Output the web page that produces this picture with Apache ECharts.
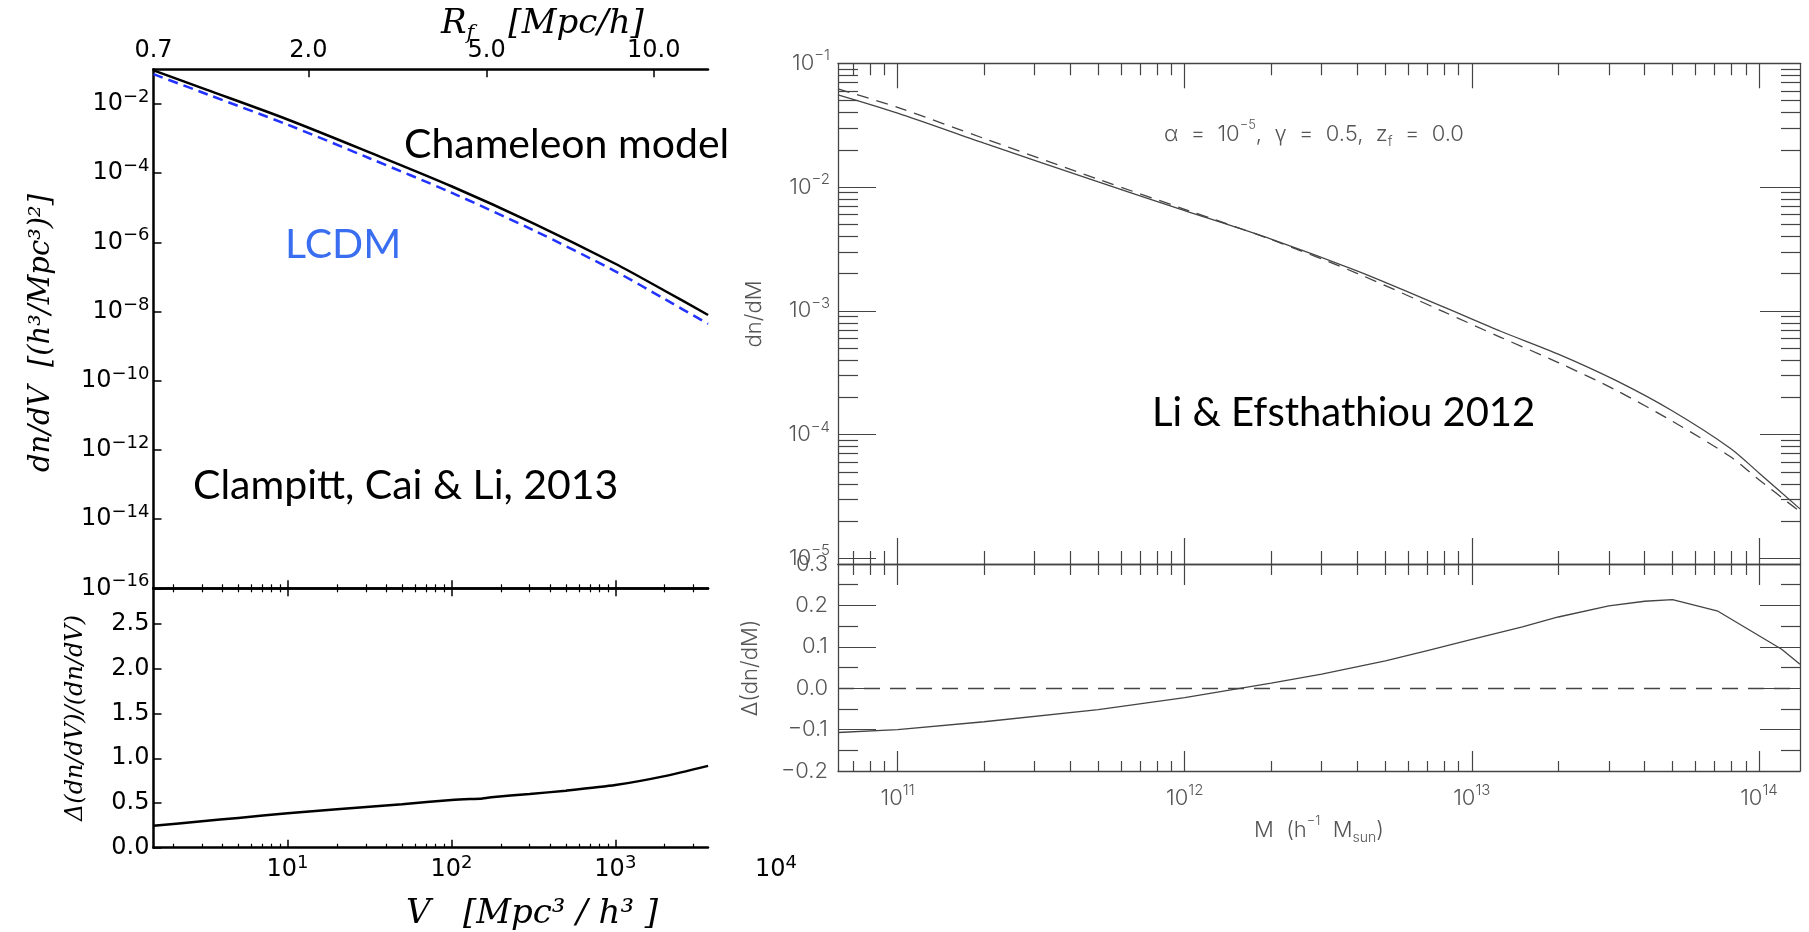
<!DOCTYPE html>
<html><head><meta charset="utf-8">
<script src="https://cdn.jsdelivr.net/npm/echarts@6.0.0/dist/echarts.min.js"></script>
<style>html,body{margin:0;padding:0;background:#fff}#c{width:1809px;height:932px}</style>
</head><body><div id="c"></div>
<script>
// ---------- Left figure (Clampitt, Cai & Li 2013) ----------
const volV = [1.52, 3.16, 10, 31.6, 100, 316, 1000, 2000, 3680];
const chameleonDnDV = [0.0933, 0.0263, 3.55e-3, 3.98e-4, 4.17e-5, 3.55e-6, 2.40e-7, 3.98e-8, 7.94e-9];
const lcdmDnDV = [0.0724, 0.0197, 2.51e-3, 2.69e-4, 2.72e-5, 2.24e-6, 1.45e-7, 2.29e-8, 4.37e-9];
const ratioV = [1.52, 3, 5, 10, 20, 50, 100, 130, 150, 175, 300, 500, 1000, 2000, 3680];
const ratioDelta = [0.245, 0.295, 0.333, 0.385, 0.43, 0.486, 0.534, 0.545, 0.547, 0.565, 0.60, 0.638, 0.70, 0.80, 0.915];
const vRange = [1.52, 3676];
const vMajorTicks = [10, 100, 1000];
const rfTickLabels = ['0.7', '2.0', '5.0', '10.0'];
const rfTickV = [1.52, 13.4, 164, 1714];
const leftYTicks = [1e-2, 1e-4, 1e-6, 1e-8, 1e-10, 1e-12, 1e-14, 1e-16];
const ratioTicks = [0, 0.5, 1.0, 1.5, 2.0, 2.5];

// ---------- Right figure (Li & Efstathiou 2012) ----------
const massM = [6.2e10, 1e11, 2e11, 5e11, 1e12, 2e12, 4e12, 8e12, 1.26e13, 2e13, 3.16e13, 5e13, 7.94e13, 1e14, 1.39e14];
const modelDnDM = [0.0555, 0.0395, 0.0226, 0.0110, 0.00646, 0.00380, 0.00209, 0.00107, 6.84e-4, 4.47e-4, 2.75e-4, 1.55e-4, 7.76e-5, 4.90e-5, 2.51e-5];
const lcdmDnDM = [0.0621, 0.0440, 0.0247, 0.01156, 0.00661, 0.00377, 0.00200, 9.80e-4, 6.11e-4, 3.82e-4, 2.30e-4, 1.28e-4, 6.64e-5, 4.32e-5, 2.38e-5];
const deltaM = [6.2e10, 1e11, 2e11, 5e11, 1e12, 2e12, 3e12, 5e12, 7e12, 1e13, 1.5e13, 2e13, 3e13, 4e13, 5e13, 7.2e13, 1.2e14, 1.39e14];
const deltaDnDM = [-0.107, -0.100, -0.081, -0.052, -0.023, 0.012, 0.034, 0.066, 0.091, 0.118, 0.148, 0.172, 0.199, 0.210, 0.214, 0.186, 0.094, 0.058];
const mRange = [6.2e10, 1.39e14];
const mMajorTicks = [1e11, 1e12, 1e13, 1e14];
const dndmRange = [9e-6, 0.1];
const dndmMajorTicks = [1e-5, 1e-4, 1e-3, 1e-2, 1e-1];

// ---------- helpers ----------
const expOf = v => String(Math.round(Math.log10(v))).replace('-', '−');
const pow10Rich = v => '{b|10}{s|' + expOf(v) + '}';
function minorLog(lo, hi) {
  const out = [];
  for (let e = Math.floor(Math.log10(lo)); e <= Math.ceil(Math.log10(hi)); e++)
    for (let k = 2; k <= 9; k++) { const v = k * Math.pow(10, e); if (v > lo * 1.001 && v < hi * 0.999) out.push(v); }
  return out;
}
const vMinorTicks = minorLog(vRange[0], vRange[1]);
const mMinorTicks = minorLog(mRange[0], mRange[1]);
const dndmMinorTicks = minorLog(dndmRange[0], dndmRange[1]);
const zip = (a, b) => a.map((x, i) => [x, b[i]]);
const rfFmt = v => { for (let i = 0; i < rfTickV.length; i++) if (Math.abs(Math.log10(v / rfTickV[i])) < 0.01) return '{b|' + rfTickLabels[i] + '}'; return ''; };

const BLACK = '#000', GRAY = '#444', LGRAY = '#555';
const LFONT = 'DejaVu Sans', RFONT = 'Inter';
const leftLine = {show: true, onZero: false, lineStyle: {color: BLACK, width: 2.5}};
const rightLine = {show: true, onZero: false, lineStyle: {color: GRAY, width: 1.3}};
const noLine = {show: false, onZero: false};
const tick = (vals, len, color, w) => ({show: true, inside: true, length: len, customValues: vals, lineStyle: {color: color, width: w}});
function ax(o) {
  return Object.assign({splitLine: {show: false}, minorSplitLine: {show: false}, axisLine: noLine,
    axisTick: {show: false}, axisLabel: {show: false}, silent: true}, o);
}
const lRich = {
  b: {fontFamily: LFONT, fontSize: 24, color: BLACK, lineHeight: 31},
  s: {fontFamily: LFONT, fontSize: 18, color: BLACK, lineHeight: 19, verticalAlign: 'top'}
};
const rRich = {
  b: {fontFamily: RFONT, fontWeight: 300, fontSize: 22, color: LGRAY, lineHeight: 30},
  s: {fontFamily: RFONT, fontWeight: 300, fontSize: 15, color: LGRAY, lineHeight: 16, verticalAlign: 'top'}
};
const lLabel = (vals, fmt, margin) => ({show: true, customValues: vals, formatter: fmt, margin: margin, rich: lRich});
const rLabel = (vals, fmt, margin) => ({show: true, customValues: vals, formatter: fmt, margin: margin, rich: rRich});
const logV = (g, pos, o) => ax(Object.assign({gridIndex: g, type: 'log', logBase: 10, position: pos, min: vRange[0], max: vRange[1]}, o));
const logM = (g, pos, o) => ax(Object.assign({gridIndex: g, type: 'log', logBase: 10, position: pos, min: mRange[0], max: mRange[1]}, o));
const logN = (pos, o) => ax(Object.assign({gridIndex: 2, type: 'log', logBase: 10, position: pos, min: dndmRange[0], max: dndmRange[1]}, o));

const xAxis = [
  logV(0, 'bottom', {axisLine: leftLine, axisTick: tick(vMajorTicks, 8, BLACK, 1.5)}),             // 0
  logV(0, 'bottom', {axisTick: tick(vMinorTicks, 4, BLACK, 1.2)}),                                 // 1
  logV(0, 'top', {axisLine: leftLine, axisTick: tick(rfTickV.slice(1), 8, BLACK, 1.5),
    axisLabel: lLabel(rfTickV, rfFmt, 3)}),                                                          // 2
  logV(1, 'bottom', {axisLine: leftLine, axisTick: tick(vMajorTicks, 8, BLACK, 1.5),
    axisLabel: lLabel(vMajorTicks, pow10Rich, 7)}),                                                  // 3
  logV(1, 'bottom', {axisTick: tick(vMinorTicks, 4, BLACK, 1.2)}),                                 // 4
  logV(1, 'top', {axisLine: leftLine, axisTick: tick(vMajorTicks, 8, BLACK, 1.5)}),                // 5
  logV(1, 'top', {axisTick: tick(vMinorTicks, 4, BLACK, 1.2)}),                                    // 6
  logM(2, 'bottom', {axisLine: rightLine, axisTick: tick(mMajorTicks, 26, GRAY, 1.2)}),            // 7
  logM(2, 'bottom', {axisTick: tick(mMinorTicks, 13, GRAY, 1.2)}),                                 // 8
  logM(2, 'top', {axisLine: rightLine, axisTick: tick(mMajorTicks, 25, GRAY, 1.2)}),               // 9
  logM(2, 'top', {axisTick: tick(mMinorTicks, 12, GRAY, 1.2)}),                                    // 10
  logM(3, 'bottom', {axisLine: rightLine, axisTick: tick(mMajorTicks, 20, GRAY, 1.2),
    axisLabel: rLabel(mMajorTicks, pow10Rich, 12)}),                                                 // 11
  logM(3, 'bottom', {axisTick: tick(mMinorTicks, 10, GRAY, 1.2)}),                                 // 12
  logM(3, 'top', {axisLine: rightLine, axisTick: tick(mMajorTicks, 21, GRAY, 1.2)}),               // 13
  logM(3, 'top', {axisTick: tick(mMinorTicks, 11, GRAY, 1.2)})                                     // 14
];

const deltaFmt = v => '{b|' + (v < -1e-9 ? '−' : '') + Math.abs(v).toFixed(1) + '}';
const yAxis = [
  ax({gridIndex: 0, type: 'log', logBase: 10, position: 'left', min: 1e-16, max: 0.1, axisLine: leftLine,
    axisTick: tick(leftYTicks, 8, BLACK, 1.5), axisLabel: lLabel(leftYTicks, pow10Rich, 4)}),        // 0
  ax({gridIndex: 1, type: 'value', position: 'left', min: 0, max: 2.9, axisLine: leftLine,
    axisTick: tick(ratioTicks, 8, BLACK, 1.5), axisLabel: lLabel(ratioTicks, v => '{b|' + v.toFixed(1) + '}', 4)}), // 1
  logN('left', {axisLine: rightLine, axisTick: tick(dndmMajorTicks, 38, GRAY, 1.2),
    axisLabel: rLabel(dndmMajorTicks, pow10Rich, 8)}),                                               // 2
  logN('left', {axisTick: tick(dndmMinorTicks, 20, GRAY, 1.2)}),                                     // 3
  logN('right', {axisLine: rightLine, axisTick: tick(dndmMajorTicks, 40, GRAY, 1.2)}),               // 4
  logN('right', {axisTick: tick(dndmMinorTicks, 19, GRAY, 1.2)}),                                    // 5
  ax({gridIndex: 3, type: 'value', position: 'left', min: -0.2, max: 0.3, interval: 0.1, axisLine: rightLine,
    axisTick: {show: true, inside: true, length: 38, lineStyle: {color: GRAY, width: 1.2}},
    minorTick: {show: true, splitNumber: 2, length: 20, lineStyle: {color: GRAY, width: 1.2}},
    axisLabel: {show: true, formatter: deltaFmt, margin: 10, rich: rRich}}),                        // 6
  ax({gridIndex: 3, type: 'value', position: 'right', min: -0.2, max: 0.3, interval: 0.1, axisLine: rightLine,
    axisTick: {show: true, inside: true, length: 40, lineStyle: {color: GRAY, width: 1.2}},
    minorTick: {show: true, splitNumber: 2, length: 19, lineStyle: {color: GRAY, width: 1.2}}})      // 7
];

const gridBase = {containLabel: false, outerBoundsMode: 'none', show: false};
const grid = [
  Object.assign({left: 153.5, top: 69.3, width: 554.5, height: 519}, gridBase),
  Object.assign({left: 153.5, top: 588.3, width: 554.5, height: 259.4}, gridBase),
  Object.assign({left: 838, top: 63.3, width: 962, height: 500.7}, gridBase),
  Object.assign({left: 838, top: 564, width: 962, height: 207}, gridBase)
];

const series = [
  {name: 'LCDM', type: 'line', xAxisIndex: 0, yAxisIndex: 0, data: zip(volV, lcdmDnDV), smooth: 0.3, showSymbol: false,
    lineStyle: {color: '#2233ff', width: 2.5, type: [10, 6]}, z: 3},
  {name: 'Chameleon model', type: 'line', xAxisIndex: 0, yAxisIndex: 0, data: zip(volV, chameleonDnDV), smooth: 0.3, showSymbol: false,
    lineStyle: {color: BLACK, width: 2.5}, z: 4},
  {name: 'Δ(dn/dV)/(dn/dV)', type: 'line', xAxisIndex: 3, yAxisIndex: 1, data: zip(ratioV, ratioDelta), smooth: 0.2, showSymbol: false,
    lineStyle: {color: BLACK, width: 2.5}},
  {name: 'dn/dM LCDM', type: 'line', xAxisIndex: 7, yAxisIndex: 2, data: zip(massM, lcdmDnDM), smooth: 0.3, showSymbol: false,
    lineStyle: {color: GRAY, width: 1.3, type: [12, 8]}},
  {name: 'dn/dM model', type: 'line', xAxisIndex: 7, yAxisIndex: 2, data: zip(massM, modelDnDM), smooth: 0.3, showSymbol: false,
    lineStyle: {color: GRAY, width: 1.3}},
  {name: 'Δ(dn/dM)', type: 'line', xAxisIndex: 11, yAxisIndex: 6, data: zip(deltaM, deltaDnDM), smooth: false, showSymbol: false,
    lineStyle: {color: GRAY, width: 1.3},
    markLine: {silent: true, symbol: 'none', label: {show: false}, lineStyle: {color: GRAY, width: 1.3, type: [16, 10]},
      data: [{yAxis: 0}]}}
];

function txt(x, y, text, st, extra) {
  return Object.assign({type: 'text', x: x, y: y, silent: true, z: 10,
    style: Object.assign({text: text, fill: BLACK, align: 'left', verticalAlign: 'middle', textAlign: 'left', textVerticalAlign: 'middle'}, st)}, extra || {});
}
const serifIt = {fontFamily: 'DejaVu Serif', fontStyle: 'italic'};
const graphic = [
  // left figure annotations
  txt(404, 145, 'Chameleon model', {fontFamily: 'Lato', fontSize: 41}),
  txt(285, 245, 'LCDM', {fontFamily: 'Lato', fontSize: 41, fill: '#3a6ef0'}),
  txt(193, 486, 'Clampitt, Cai & Li, 2013', {fontFamily: 'Lato', fontSize: 41}),
  // left axis titles
  txt(441, 24, '{a|R}{s|f}{a|\u2002\u2002[Mpc/h]}', {rich: {
    a: Object.assign({fontSize: 34, fill: BLACK, lineHeight: 40}, serifIt),
    s: Object.assign({fontSize: 21, fill: BLACK, lineHeight: 32, verticalAlign: 'bottom'}, serifIt)}}),
  txt(532, 914, 'V   [Mpc³ / h³ ]', Object.assign({fontSize: 34, align: 'center', textAlign: 'center'}, serifIt)),
  txt(41, 333, 'dn/dV  [(h³/Mpc³)²]', Object.assign({fontSize: 29, align: 'center', textAlign: 'center'}, serifIt), {rotation: Math.PI / 2}),
  txt(76, 718, 'Δ(dn/dV)/(dn/dV)', Object.assign({fontSize: 24, align: 'center', textAlign: 'center'}, serifIt), {rotation: Math.PI / 2}),
  txt(776, 854.7, '{b|10}{s|4}', {align: 'center', textAlign: 'center', verticalAlign: 'top', textVerticalAlign: 'top', rich: {
    b: {fontFamily: LFONT, fontSize: 24, fill: BLACK, lineHeight: 31},
    s: {fontFamily: LFONT, fontSize: 18, fill: BLACK, lineHeight: 19, verticalAlign: 'top'}}}),
  // right figure annotations
  txt(1152, 413, 'Li & Efsthathiou 2012', {fontFamily: 'Lato', fontSize: 40}),
  txt(1164, 134, '{a|α  =  10}{p|−5}{a|,  γ  =  0.5,  z}{s|f}{a|  =  0.0}', {rich: {
    a: {fontFamily: RFONT, fontWeight: 300, fontSize: 22, fill: LGRAY, lineHeight: 30},
    p: {fontFamily: RFONT, fontWeight: 300, fontSize: 13, fill: LGRAY, lineHeight: 16, verticalAlign: 'top'},
    s: {fontFamily: RFONT, fontWeight: 300, fontSize: 14, fill: LGRAY, verticalAlign: 'bottom'}}}),
  txt(754, 314, 'dn/dM', {fontFamily: RFONT, fontWeight: 300, fontSize: 22, fill: LGRAY, align: 'center', textAlign: 'center'}, {rotation: Math.PI / 2}),
  txt(750, 668, 'Δ(dn/dM)', {fontFamily: RFONT, fontWeight: 300, fontSize: 22, fill: LGRAY, align: 'center', textAlign: 'center'}, {rotation: Math.PI / 2}),
  txt(1319, 830, '{a|M  (h}{p|−1}{a|  M}{s|sun}{a|)}', {align: 'center', textAlign: 'center', rich: {
    a: {fontFamily: RFONT, fontWeight: 300, fontSize: 22, fill: LGRAY, lineHeight: 30},
    p: {fontFamily: RFONT, fontWeight: 300, fontSize: 13, fill: LGRAY, lineHeight: 16, verticalAlign: 'top'},
    s: {fontFamily: RFONT, fontWeight: 300, fontSize: 14, fill: LGRAY, verticalAlign: 'bottom'}}})
];

const chart = echarts.init(document.getElementById('c'), null, {renderer: 'canvas'});
chart.setOption({animation: false, backgroundColor: '#fff', grid: grid, xAxis: xAxis, yAxis: yAxis, series: series, graphic: graphic});
</script></body></html>
